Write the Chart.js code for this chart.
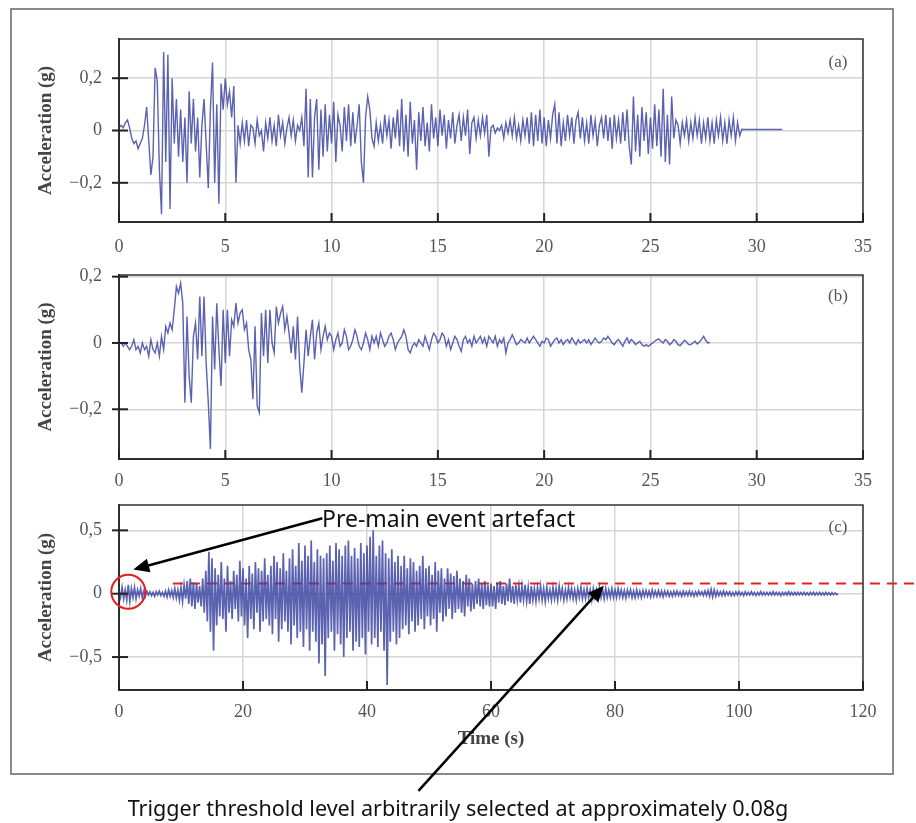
<!DOCTYPE html>
<html>
<head>
<meta charset="utf-8">
<script src="https://cdn.jsdelivr.net/npm/chart.js@4.4.1/dist/chart.umd.min.js"></script>
<style>
  body { margin: 0; background: #fff; width: 916px; height: 823px; position: relative; overflow: hidden; }
  .frame { position: absolute; left: 10px; top: 8px; width: 884px; height: 767px; box-sizing: border-box; border: 2px solid #8a8a8a; }
  canvas { position: absolute; left: 0; }
  .panel { position: absolute; font-family: 'Liberation Serif', serif; font-size: 17px; color: #555; transform: translate(-50%, -50%); }
  .note { position: absolute; font-family: 'Noto Sans', sans-serif; font-size: 22px; color: #111; white-space: nowrap; }
</style>
</head>
<body>
<div class="frame"></div>
<canvas id="chartA" width="916" height="260" style="top:0"></canvas>
<canvas id="chartB" width="916" height="255" style="top:235px"></canvas>
<canvas id="chartC" width="916" height="358" style="top:465px"></canvas>
<div class="panel" style="left:838px;top:62px">(a)</div>
<div class="panel" style="left:838px;top:296px">(b)</div>
<div class="panel" style="left:838px;top:527px">(c)</div>
<div class="note" style="left:322px;top:502px;font-size:23px">Pre-main event artefact</div>
<div class="note" style="left:458px;top:793px;font-size:21.6px;transform:translateX(-50%)">Trigger threshold level arbitrarily selected at approximately 0.08g</div>
<script>
// pas de temps (s) de chaque enregistrement
const dtA = 0.1, dtB = 0.1, dtC = 0.25;

// (a) accélération (g), 0 -> 31.2 s
const accA = [
  0.01, 0.02, 0.01, 0.03, 0.04, 0.01, -0.03, -0.05, -0.04, -0.07,
  -0.05, -0.03, 0.02, 0.09, -0.04, -0.17, -0.1, 0.24, 0.19, -0.15,
  -0.32, 0.3, -0.12, 0.29, -0.3, 0.2, -0.05, 0.12, -0.1, 0.08,
  -0.12, 0.05, -0.2, 0.15, -0.05, 0.12, -0.08, 0.05, -0.18, 0.02,
  0.12, -0.05, -0.22, 0.08, 0.26, -0.2, 0.1, -0.28, 0.18, 0.08,
  0.2, 0.1, 0.15, 0.05, 0.17, -0.2, 0.02, -0.05, 0.03, -0.04,
  0.04, -0.06, 0.02, 0.01, -0.05, 0.04, -0.02, 0.0, -0.08, 0.03,
  -0.03, 0.05, -0.04, 0.02, -0.06, 0.06, -0.02, 0.03, -0.05, 0.01,
  0.05, -0.02, 0.04, -0.04, 0.02, 0.0, 0.05, -0.06, 0.16, -0.18,
  0.12, -0.18, 0.05, 0.12, -0.15, 0.08, -0.1, 0.1, -0.08, 0.06,
  -0.05, 0.11, -0.12, 0.06, 0.02, -0.08, 0.09, -0.04, 0.1, -0.06,
  0.07, -0.05, 0.02, 0.1, -0.12, -0.2, 0.05, 0.13, 0.08, -0.03,
  -0.06, 0.03, -0.04, 0.02, -0.05, 0.06, -0.02, 0.04, -0.07, 0.05,
  -0.03, 0.08, -0.06, 0.12, -0.08, 0.06, -0.1, 0.11, -0.05, 0.04,
  -0.15, 0.07, -0.04, 0.09, -0.06, 0.03, -0.08, 0.1, -0.03, 0.05,
  -0.06, 0.08, -0.02, 0.06, -0.07, 0.04, -0.03, 0.07, -0.05, 0.02,
  0.06, -0.04, 0.05, -0.02, 0.08, -0.09, 0.03, 0.05, -0.03, 0.04,
  -0.02, 0.05, -0.01, 0.06, -0.1, 0.01, 0.02, -0.01, 0.01, 0.0,
  0.02, -0.03, 0.03, -0.01, 0.04, -0.02, 0.05, -0.03, 0.02, -0.04,
  0.04, -0.02, 0.05, -0.05, 0.07, -0.06, 0.06, -0.04, 0.08, -0.05,
  0.05, -0.06, 0.04, -0.03, 0.06, 0.1, -0.05, 0.07, -0.06, 0.03,
  -0.04, 0.06, -0.02, 0.05, -0.05, 0.04, 0.07, -0.03, 0.05, -0.04,
  0.03, -0.05, 0.06, -0.02, 0.04, -0.06, 0.02, 0.05, -0.03, 0.06,
  -0.04, 0.05, -0.07, 0.06, -0.03, 0.04, -0.05, 0.07, -0.04, 0.08,
  -0.06, -0.13, 0.13, -0.08, 0.06, -0.1, 0.09, -0.04, 0.07, -0.09,
  0.05, -0.07, 0.1, -0.06, 0.08, -0.1, 0.16, -0.12, 0.06, -0.13,
  0.13, -0.03, 0.04, 0.02, -0.05, 0.03, -0.02, 0.04, -0.04, 0.03,
  -0.03, 0.05, -0.02, 0.04, -0.05, 0.03, -0.03, 0.05, -0.04, 0.03,
  -0.05, 0.04, -0.02, 0.05, -0.04, 0.03, -0.05, 0.04, -0.02, 0.05,
  -0.04, 0.03, -0.02, 0.005, 0.004, 0.004, 0.004, 0.004, 0.004, 0.004,
  0.004, 0.004, 0.004, 0.004, 0.004, 0.004, 0.004, 0.004, 0.004, 0.004,
  0.004, 0.004, 0.004
];

// (b) accélération (g), 0 -> 27.8 s
const accB = [
  0.0, 0.0, -0.01, 0.0, -0.01, -0.02, -0.01, 0.01, -0.02, -0.01,
  -0.03, 0.0, -0.02, -0.01, -0.04, 0.01, -0.02, -0.03, 0.0, -0.04,
  0.02, -0.02, 0.05, 0.03, 0.06, 0.04, 0.1, 0.17, 0.15, 0.18,
  0.12, -0.18, 0.08, -0.1, -0.18, 0.02, 0.06, -0.05, 0.14, -0.04,
  0.14, -0.06, -0.18, -0.32, 0.08, -0.08, 0.12, -0.02, -0.13, 0.1,
  -0.06, 0.1, -0.04, 0.07, 0.05, 0.12, 0.06, 0.09, 0.1, 0.04,
  0.06, -0.02, -0.05, -0.17, 0.05, -0.19, -0.21, 0.09, -0.04, 0.1,
  -0.06, 0.1, 0.0, -0.03, 0.11, 0.06, 0.09, 0.11, 0.04, 0.08,
  0.03, -0.03, 0.05, -0.05, 0.08, -0.07, -0.15, -0.06, 0.04, -0.04,
  0.02, 0.07, -0.05, 0.03, 0.06, -0.02, 0.02, 0.05, 0.01, 0.03,
  0.02, -0.02, 0.01, 0.03, -0.01, 0.0, 0.04, 0.02, -0.02, -0.01,
  0.01, 0.04, 0.02, -0.01, -0.02, 0.0, 0.03, 0.01, -0.02, 0.02,
  0.0, 0.02, -0.01, 0.03, 0.01, -0.01, 0.0, 0.02, 0.03, 0.01,
  -0.02, 0.0, 0.01, 0.02, 0.04, 0.02, -0.02, -0.03, -0.01, 0.0,
  -0.01, 0.01, 0.0, -0.01, 0.02, 0.0, -0.02, 0.01, 0.03, 0.02,
  0.0, 0.01, 0.03, 0.02, -0.01, 0.01, -0.02, 0.0, 0.02, 0.01,
  -0.01, -0.025, 0.01, 0.02, 0.0, 0.01, -0.01, 0.02, 0.0, 0.01,
  0.02, 0.0, 0.015, -0.01, 0.02, 0.01, 0.0, 0.02, -0.01, 0.01,
  0.0, 0.015, -0.03, 0.0, 0.01, 0.025, 0.01, -0.005, 0.0, 0.01,
  0.005, 0.0, 0.015, 0.0, 0.01, 0.02, 0.01, 0.0, -0.01, 0.005,
  0.0, 0.015, 0.01, -0.01, 0.0, 0.01, 0.015, 0.0, 0.01, -0.005,
  0.005, 0.01, 0.0, 0.015, 0.005, -0.005, 0.01, 0.0, 0.005, 0.01,
  0.0, 0.01, -0.005, 0.005, 0.015, 0.005, 0.0, 0.005, 0.015, 0.01,
  0.02, 0.01, 0.0, -0.005, 0.005, 0.01, 0.0, -0.01, 0.005, 0.015,
  0.0, 0.01, 0.005, -0.005, 0.0, 0.005, -0.005, -0.01, -0.005, -0.01,
  -0.005, 0.0, 0.005, 0.01, 0.012, 0.005, 0.0, 0.01, 0.005, -0.005,
  0.0, 0.01, 0.005, -0.005, -0.008, 0.0, 0.008, 0.003, -0.005, -0.005,
  0.0, 0.005, -0.003, 0.003, 0.01, 0.02, 0.008, 0.0, 0.002
];

// (c) accélération (g), 0 -> 116 s
const accC = [
  0.02, -0.03, 0.05, -0.04, 0.03, -0.05, 0.07, -0.06, 0.04, -0.03, 0.05, -0.04, 0.03, -0.02, 0.04, -0.03, 0.02, -0.02, 0.02, -0.01,
  0.015, -0.015, 0.01, -0.02, 0.015, -0.01, 0.02, -0.015, 0.01, -0.02, 0.02, -0.025, 0.03, -0.02, 0.025, -0.03, 0.04, -0.035, 0.03, -0.05,
  0.05, -0.06, 0.07, -0.04, 0.1, -0.08, 0.12, -0.1, 0.09, -0.12, 0.08, -0.07, 0.06, -0.1, 0.12, -0.15, 0.18, -0.22, 0.33, -0.3,
  0.28, -0.45, 0.2, -0.25, 0.15, -0.18, 0.25, -0.2, 0.12, -0.3, 0.22, -0.15, 0.1, -0.2, 0.18, -0.12, 0.15, -0.22, 0.26, -0.18,
  0.2, -0.25, 0.12, -0.35, 0.22, -0.2, 0.16, -0.28, 0.25, -0.15, 0.2, -0.3, 0.18, -0.22, 0.28, -0.2, 0.15, -0.25, 0.22, -0.32,
  0.3, -0.2, 0.25, -0.38, 0.2, -0.28, 0.32, -0.22, 0.18, -0.3, 0.28, -0.4, 0.35, -0.25, 0.22, -0.35, 0.4, -0.3, 0.26, -0.42,
  0.38, -0.28, 0.3, -0.45, 0.42, -0.3, 0.25, -0.38, 0.35, -0.55, 0.3, -0.4, 0.28, -0.65, 0.32, -0.35, 0.38, -0.3, 0.26, -0.45,
  0.4, -0.32, 0.35, -0.4, 0.3, -0.5, 0.38, -0.35, 0.42, -0.3, 0.3, -0.45, 0.36, -0.38, 0.28, -0.42, 0.4, -0.35, 0.32, -0.48,
  0.38, -0.3, 0.45, -0.4, 0.5, -0.35, 0.3, -0.42, 0.38, -0.3, 0.42, -0.45, 0.32, -0.72, 0.28, -0.38, 0.35, -0.3, 0.25, -0.4,
  0.3, -0.35, 0.22, -0.28, 0.3, -0.25, 0.2, -0.32, 0.28, -0.22, 0.25, -0.3, 0.18, -0.25, 0.22, -0.2, 0.3, -0.28, 0.2, -0.18,
  0.22, -0.25, 0.15, -0.2, 0.25, -0.3, 0.18, -0.15, 0.2, -0.22, 0.12, -0.18, 0.2, -0.12, 0.16, -0.2, 0.14, -0.15, 0.18, -0.12,
  0.12, -0.15, 0.1, -0.18, 0.15, -0.1, 0.12, -0.14, 0.08, -0.12, 0.1, -0.08, 0.12, -0.1, 0.08, -0.12, 0.1, -0.09, 0.07, -0.1,
  0.08, -0.1, 0.06, -0.12, 0.09, -0.07, 0.1, -0.08, 0.06, -0.09, 0.08, -0.06, 0.12, -0.07, 0.06, -0.08, 0.07, -0.05, 0.06, -0.07,
  0.06, -0.05, 0.07, -0.06, 0.05, -0.08, 0.06, -0.05, 0.04, -0.06, 0.05, -0.04, 0.06, -0.05, 0.04, -0.06, 0.05, -0.04, 0.03, -0.05,
  0.05, -0.04, 0.04, -0.05, 0.06, -0.03, 0.04, -0.05, 0.03, -0.04, 0.05, -0.03, 0.04, -0.04, 0.03, -0.05, 0.04, -0.03, 0.05, -0.04,
  0.03, -0.04, 0.04, -0.03, 0.03, -0.05, 0.04, -0.03, 0.03, -0.04, 0.05, -0.03, 0.03, -0.04, 0.04, -0.03, 0.03, -0.03, 0.04, -0.03,
  0.03, -0.03, 0.04, -0.025, 0.03, -0.03, 0.025, -0.035, 0.03, -0.02, 0.03, -0.03, 0.02, -0.03, 0.03, -0.025, 0.02, -0.03, 0.025, -0.02,
  0.025, -0.02, 0.02, -0.025, 0.03, -0.02, 0.02, -0.02, 0.025, -0.02, 0.02, -0.025, 0.02, -0.015, 0.02, -0.02, 0.015, -0.02, 0.02, -0.015,
  0.02, -0.015, 0.015, -0.02, 0.02, -0.015, 0.015, -0.015, 0.02, -0.015, 0.015, -0.02, 0.015, -0.015, 0.02, -0.01, 0.015, -0.015, 0.02, -0.015,
  0.025, -0.02, 0.035, -0.025, 0.03, -0.02, 0.02, -0.015, 0.015, -0.015, 0.02, -0.015, 0.015, -0.01, 0.015, -0.015, 0.01, -0.015, 0.015, -0.01,
  0.015, -0.01, 0.01, -0.015, 0.015, -0.01, 0.01, -0.01, 0.015, -0.01, 0.01, -0.015, 0.01, -0.01, 0.015, -0.01, 0.01, -0.01, 0.01, -0.01,
  0.01, -0.01, 0.015, -0.01, 0.01, -0.01, 0.01, -0.015, 0.01, -0.01, 0.01, -0.01, 0.015, -0.01, 0.01, -0.01, 0.01, -0.01, 0.01, -0.008,
  0.01, -0.008, 0.01, -0.01, 0.008, -0.01, 0.01, -0.008, 0.01, -0.01, 0.008, -0.008, 0.01, -0.01, 0.008, -0.01, 0.01, -0.008, 0.008, -0.01,
  0.008, -0.008, 0.006, -0.006, 0.0
];

// seuil de déclenchement (g) et son étendue en temps (s)
const seuil = 0.08;
const seuilDebutFin = [8.7, 128.7];

// graduations
const ticksXAB = [0, 5, 10, 15, 20, 25, 30, 35];
const ticksXC = [0, 20, 40, 60, 80, 100, 120];
const ticksYAB = [-0.2, 0, 0.2];
const ticksYC = [-0.5, 0, 0.5];

// annotations de (c) en unités des axes [temps, accélération]
const cercleArtefact = [1.5, 0.015];
const flecheArtefact = [[32.8, 0.595], [2.3, 0.19]];
const flecheSeuil = [[48.3, -1.556], [78.2, 0.063]];

const couleurTrace = 'rgba(62, 70, 162, 0.85)';
const couleurGrille = '#d6d6d6';
const policeTicks = { family: 'Liberation Serif', size: 18 };
const policeTitre = { family: 'Liberation Serif', size: 19, weight: 'bold' };

function formatVirgule(v) {
  if (v === 0) return '0';
  return (v < 0 ? '\u2212' : '') + String(Math.abs(v)).replace('.', ',');
}

// cadre noir autour de la zone de tracé + petites graduations vers l'intérieur
const pluginCadre = {
  id: 'cadre',
  afterDraw(chart) {
    const { ctx, chartArea: a, scales } = chart;
    ctx.save();
    ctx.strokeStyle = '#333';
    ctx.lineWidth = 1.5;
    ctx.strokeRect(a.left, a.top, a.right - a.left, a.bottom - a.top);
    ctx.lineWidth = 2;
    ctx.strokeStyle = '#222';
    scales.x.ticks.forEach(t => {
      const px = scales.x.getPixelForValue(t.value);
      ctx.beginPath(); ctx.moveTo(px, a.bottom); ctx.lineTo(px, a.bottom - 9); ctx.stroke();
    });
    scales.y.ticks.forEach(t => {
      const py = scales.y.getPixelForValue(t.value);
      ctx.beginPath(); ctx.moveTo(a.left - 7, py); ctx.lineTo(a.left + 9, py); ctx.stroke();
    });
    ctx.restore();
  }
};

function fleche(ctx, x1, y1, x2, y2) {
  const ang = Math.atan2(y2 - y1, x2 - x1);
  const L = 16, W = 7;
  ctx.beginPath();
  ctx.moveTo(x1, y1);
  ctx.lineTo(x2 - Math.cos(ang) * L * 0.8, y2 - Math.sin(ang) * L * 0.8);
  ctx.stroke();
  ctx.beginPath();
  ctx.moveTo(x2, y2);
  ctx.lineTo(x2 - Math.cos(ang) * L + Math.sin(ang) * W, y2 - Math.sin(ang) * L - Math.cos(ang) * W);
  ctx.lineTo(x2 - Math.cos(ang) * L - Math.sin(ang) * W, y2 - Math.sin(ang) * L + Math.cos(ang) * W);
  ctx.closePath();
  ctx.fill();
}

const pluginNotes = {
  id: 'notes',
  afterDraw(chart) {
    const { ctx, scales: { x, y } } = chart;
    const p = v => [x.getPixelForValue(v[0]), y.getPixelForValue(v[1])];
    ctx.save();
    ctx.strokeStyle = '#e41e1e';
    ctx.lineWidth = 2;
    const c = p(cercleArtefact);
    ctx.beginPath(); ctx.arc(c[0], c[1], 17, 0, Math.PI * 2); ctx.stroke();
    ctx.strokeStyle = '#000'; ctx.fillStyle = '#000'; ctx.lineWidth = 2.5;
    [flecheArtefact, flecheSeuil].forEach(f => {
      const a = p(f[0]), b = p(f[1]);
      fleche(ctx, a[0], a[1], b[0], b[1]);
    });
    ctx.restore();
  }
};

function creerGraphique(id, valeurs, dt, cfg) {
  const points = valeurs.map((v, i) => ({ x: +(i * dt).toFixed(2), y: v }));
  const datasets = [{ data: points, borderColor: couleurTrace, borderWidth: cfg.epaisseur, pointRadius: 0, tension: 0 }];
  if (cfg.extra) datasets.push(cfg.extra);
  return new Chart(document.getElementById(id), {
    type: 'line',
    data: { datasets },
    options: {
      responsive: false,
      animation: false,
      events: [],
      layout: { padding: cfg.padding },
      plugins: { legend: { display: false }, tooltip: { enabled: false } },
      scales: {
        x: {
          type: 'linear', min: cfg.xMin, max: cfg.xMax,
          afterBuildTicks: s => { s.ticks = cfg.ticksX.map(v => ({ value: v })); },
          afterFit: s => { s.height = cfg.hauteurX; },
          grid: { color: couleurGrille, lineWidth: 1.5, drawTicks: false },
          border: { color: '#222', width: 2 },
          ticks: { padding: cfg.padX, font: policeTicks, color: '#555', autoSkip: false, maxRotation: 0, callback: v => formatVirgule(v) },
          title: cfg.titreX || { display: false }
        },
        y: {
          min: cfg.yMin, max: cfg.yMax,
          afterBuildTicks: s => { s.ticks = cfg.ticksY.map(v => ({ value: v })); },
          afterFit: s => { s.width = 119; },
          grid: { color: couleurGrille, lineWidth: 1.5, drawTicks: false },
          border: { color: '#222', width: 2 },
          ticks: { padding: 17, font: policeTicks, color: '#555', callback: v => formatVirgule(v) },
          title: { display: true, text: 'Acceleration (g)', color: '#444', font: policeTitre, padding: { top: 35 } }
        }
      }
    },
    plugins: [pluginCadre].concat(cfg.plugins || [])
  });
}

creerGraphique('chartA', accA, dtA, {
  epaisseur: 1.4, xMin: 0, xMax: 35, yMin: -0.35, yMax: 0.35,
  ticksX: ticksXAB, ticksY: ticksYAB,
  padding: { top: 39, right: 53, left: 0, bottom: 0 }, hauteurX: 38, padX: 14
});

creerGraphique('chartB', accB, dtB, {
  epaisseur: 1.4, xMin: 0, xMax: 35, yMin: -0.35, yMax: 0.205,
  ticksX: ticksXAB, ticksY: ticksYAB,
  padding: { top: 40, right: 53, left: 0, bottom: 0 }, hauteurX: 31, padX: 11
});

creerGraphique('chartC', accC, dtC, {
  epaisseur: 1.7, xMin: 0, xMax: 120, yMin: -0.76, yMax: 0.7,
  ticksX: ticksXC, ticksY: ticksYC,
  padding: { top: 40, right: 53, left: 0, bottom: 71 }, hauteurX: 62, padX: 11,
  titreX: { display: true, text: 'Time (s)', color: '#444', font: policeTitre, padding: { bottom: 2 } },
  extra: {
    data: seuilDebutFin.map(t => ({ x: t, y: seuil })),
    borderColor: '#e8201c', borderWidth: 2, borderDash: [10, 7], pointRadius: 0, clip: false
  },
  plugins: [pluginNotes]
});
</script>
</body>
</html>
